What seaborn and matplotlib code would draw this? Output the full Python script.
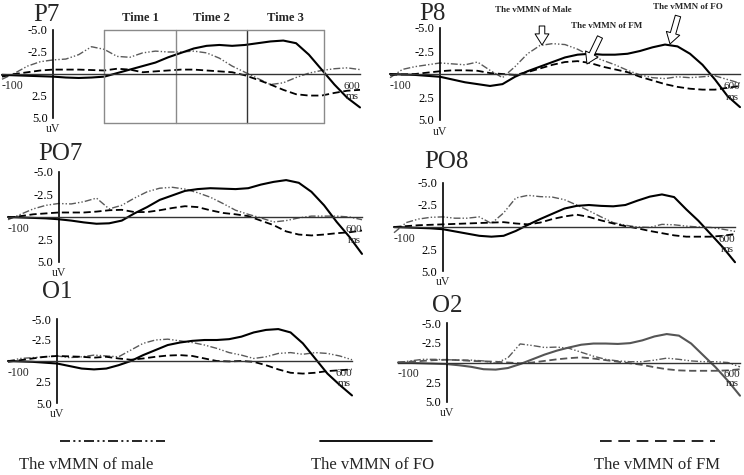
import numpy as np
import pandas as pd
import matplotlib
matplotlib.use("Agg")
import matplotlib.pyplot as plt
from matplotlib.lines import Line2D
from matplotlib.patches import FancyArrowPatch
import seaborn as sns

# ---------------- data ----------------
times = list(range(-100, 601, 25))  # ms

p7_male = [0.6, -0.1, -0.9, -1.4, -1.6, -1.7, -2.2, -3.1, -2.8, -2.0, -1.9, -2.4, -2.6, -2.5, -2.5,
           -2.6, -2.4, -1.8, -0.9, -0.2, 0.5, 1.2, 1.0, 0.4, -0.1, -0.4, -0.6, -0.7, -0.5]
p7_fo = [0.1, 0.15, 0.2, 0.25, 0.3, 0.4, 0.45, 0.4, 0.3, -0.1, -0.5, -0.9, -1.3, -1.9, -2.4,
         -2.9, -3.2, -3.3, -3.2, -3.3, -3.5, -3.7, -3.8, -3.5, -2.2, -0.5, 1.2, 2.7, 3.8]
p7_fm = [0.3, 0.0, -0.2, -0.4, -0.5, -0.5, -0.5, -0.45, -0.4, -0.6, -0.5, -0.2, -0.3, -0.4, -0.5,
         -0.5, -0.4, -0.3, -0.2, 0.15, 0.65, 1.2, 1.8, 2.3, 2.45, 2.45, 2.15, 1.9, 1.8]

p8_male = [0.4, -0.5, -0.8, -1.0, -1.2, -1.1, -1.0, -1.3, -0.4, 0.4, -0.8, -2.2, -3.1, -3.3, -3.2,
           -2.7, -2.0, -1.5, -1.0, -0.4, 0.1, 0.4, 0.5, 0.3, 0.4, 0.3, 0.2, 0.6, 1.0]
p8_fo = [0.0, 0.05, 0.1, 0.2, 0.3, 0.6, 0.9, 1.1, 1.3, 1.1, 0.3, -0.3, -0.8, -1.3, -1.8,
         -2.1, -2.2, -2.1, -2.1, -2.2, -2.5, -2.9, -3.2, -3.0, -2.2, -1.0, 0.6, 2.4, 3.6]
p8_fm = [0.1, 0.05, 0.0, -0.15, -0.3, -0.4, -0.4, -0.35, -0.1, 0.0, 0.1, -0.2, -0.6, -1.0, -1.3,
         -1.4, -1.2, -0.8, -0.5, -0.2, 0.3, 0.7, 1.1, 1.4, 1.6, 1.7, 1.7, 1.5, 1.3]

po7_male = [0.3, -0.3, -0.9, -1.3, -1.5, -1.45, -1.7, -2.1, -0.9, -1.3, -2.1, -2.8, -3.2, -3.3, -3.1,
            -2.7, -2.2, -1.5, -0.75, -0.3, 0.1, 0.55, 0.4, 0.1, -0.1, -0.1, -0.1, 0.0, 0.3]
po7_fo = [0.0, 0.05, 0.1, 0.15, 0.25, 0.4, 0.6, 0.75, 0.7, 0.4, -0.4, -1.1, -1.9, -2.4, -2.9,
          -3.1, -3.2, -3.15, -3.1, -3.2, -3.6, -3.9, -4.1, -3.8, -2.8, -1.3, 0.55, 2.2, 4.1]
po7_fm = [0.1, -0.1, -0.3, -0.4, -0.5, -0.5, -0.5, -0.6, -0.75, -0.8, -0.55, -0.55, -0.75, -1.0, -1.2,
          -1.1, -0.75, -0.45, -0.3, -0.1, 0.4, 0.9, 1.6, 1.95, 2.05, 1.95, 1.8, 1.7, 1.5]

po8_male = [0.65, -0.5, -0.9, -1.1, -1.15, -1.0, -1.0, -1.15, -0.4, -1.6, -3.3, -3.6, -3.45, -3.4, -3.1,
            -2.5, -1.85, -1.15, -0.5, -0.2, 0.0, 0.05, -0.3, -0.25, -0.1, 0.0, 0.05, 0.25, 0.5]
po8_fo = [0.0, 0.05, 0.1, 0.15, 0.25, 0.5, 0.75, 1.0, 1.1, 1.0, 0.45, -0.25, -0.9, -1.5, -2.1,
          -2.4, -2.5, -2.4, -2.35, -2.5, -3.0, -3.45, -3.7, -3.4, -2.0, -0.7, 0.8, 2.3, 4.0]
po8_fm = [0.0, -0.1, -0.2, -0.25, -0.3, -0.35, -0.4, -0.45, -0.5, -0.55, -0.4, -0.3, -0.5, -0.9, -1.2,
          -1.4, -1.15, -0.75, -0.4, -0.1, 0.15, 0.45, 0.7, 0.95, 1.1, 1.1, 1.1, 1.0, 0.8]

o1_male = [0.0, -0.3, -0.4, -0.5, -0.6, -0.4, -0.5, -0.7, -0.6, -0.5, -1.3, -2.1, -2.5, -2.6, -2.4,
           -2.2, -1.9, -1.5, -1.0, -0.7, -0.3, -0.5, -0.9, -1.0, -0.8, -1.0, -0.9, -0.6, -0.15]
o1_fo = [0.0, 0.05, 0.1, 0.2, 0.3, 0.6, 0.9, 1.0, 0.9, 0.5, 0.0, -0.7, -1.3, -1.9, -2.2,
         -2.4, -2.5, -2.5, -2.6, -2.9, -3.4, -3.7, -3.8, -3.4, -2.1, -0.3, 1.5, 2.85, 4.1]
o1_fm = [0.1, -0.1, -0.3, -0.5, -0.6, -0.55, -0.5, -0.4, -0.5, -0.3, -0.15, -0.3, -0.5, -0.65, -0.7,
         -0.6, -0.3, 0.0, 0.05, 0.0, 0.1, 0.5, 1.0, 1.4, 1.5, 1.4, 1.2, 1.1, 1.0]

o2_male = [0.0, -0.2, -0.4, -0.4, -0.35, -0.3, -0.3, -0.2, 0.1, -0.6, -2.35, -2.15, -1.9, -1.95, -1.8,
           -1.3, -0.8, -0.4, -0.2, -0.1, -0.1, -0.3, -0.55, -0.4, -0.2, -0.1, -0.1, 0.0, 0.55]
o2_fo = [0.0, 0.05, 0.1, 0.15, 0.2, 0.35, 0.55, 0.85, 0.9, 0.7, 0.2, -0.4, -1.0, -1.5, -1.9,
         -2.25, -2.4, -2.4, -2.35, -2.45, -2.8, -3.3, -3.6, -3.4, -2.4, -0.9, 0.6, 2.3, 4.2]
o2_fm = [0.0, -0.1, -0.2, -0.3, -0.35, -0.3, -0.2, -0.15, -0.1, 0.0, 0.1, 0.0, -0.2, -0.4, -0.55,
         -0.65, -0.5, -0.3, -0.1, 0.1, 0.3, 0.6, 0.85, 1.0, 1.05, 1.05, 1.05, 1.0, 0.85]

channels = ["P7", "P8", "PO7", "PO8", "O1", "O2"]
series = {
    "P7": (p7_male, p7_fo, p7_fm),
    "P8": (p8_male, p8_fo, p8_fm),
    "PO7": (po7_male, po7_fo, po7_fm),
    "PO8": (po8_male, po8_fo, po8_fm),
    "O1": (o1_male, o1_fo, o1_fm),
    "O2": (o2_male, o2_fo, o2_fm),
}
conditions = ["The vMMN of male", "The vMMN of FO", "The vMMN of FM"]
time_windows = [100, 240, 380, 530]
window_labels = ["Time 1", "Time 2", "Time 3"]
ytick_vals = [-5.0, -2.5, 2.5, 5.0]
ytick_labels = ["-5.0", "-2.5", "2.5", "5.0"]

# ---------------- style ----------------
sns.set_style("white")
plt.rcParams["font.family"] = ["Liberation Serif", "DejaVu Serif"]

W, H = 744, 475
fig = plt.figure(figsize=(W / 100, H / 100), dpi=100)

# pixel layout: x at -100, x at 600, y at -5, y at 5
layout = {
    "P7": (2, 360, 30, 118),
    "P8": (390, 740, 28, 120),
    "PO7": (8, 362, 172, 262),
    "PO8": (394, 735, 183, 271),
    "O1": (8, 352, 319, 403),
    "O2": (398, 740, 323, 402),
}
title_pos = {"P7": (33, 4), "P8": (419, 3), "PO7": (38, 143), "PO8": (424, 151),
             "O1": (42, 281), "O2": (432, 295)}

male_style = (0, (5, 1.5, 1, 1.5, 1, 1.5))
fm_style = (0, (4, 2))

def fx(px):
    return px / W

def fy(py):
    return 1 - py / H

for ch in channels:
    x0, x1, yt, yb = layout[ch]
    ax = fig.add_axes([fx(x0), fy(yb), (x1 - x0) / W, (yb - yt) / H])
    ax.set_facecolor("none")
    male, fo, fm = series[ch]
    dark = "#555555" if ch == "O2" else "black"
    sns.lineplot(x=times, y=male, ax=ax, color="#5a5a5a", linewidth=1.0,
                 linestyle=male_style, clip_on=False)
    sns.lineplot(x=times, y=fm, ax=ax, color=dark, linewidth=1.3,
                 linestyle=fm_style, clip_on=False)
    sns.lineplot(x=times, y=fo, ax=ax, color=dark, linewidth=1.5, clip_on=False)
    ax.set_xlim(-100, 600)
    ax.set_ylim(5, -5)
    ax.set_xlabel("")
    ax.set_ylabel("")
    for s in ["top", "right"]:
        ax.spines[s].set_visible(False)
    ax.spines["left"].set_position(("data", 0))
    ax.spines["bottom"].set_position(("data", 0))
    ax.spines["left"].set_bounds(-5, 5)
    ax.spines["bottom"].set_bounds(-100, 600)
    ax.spines["left"].set_color("black")
    ax.spines["left"].set_linewidth(1.2)
    ax.spines["bottom"].set_color("#333333")
    ax.spines["bottom"].set_linewidth(1.0)
    ax.set_yticks(ytick_vals)
    ax.set_yticklabels(ytick_labels)
    ax.set_xticks([-100, 100, 200, 300, 400, 500, 600])
    ax.set_xticklabels([])
    ax.tick_params(axis="y", direction="inout", length=6, width=0.9, pad=1,
                   labelsize=9, colors="black")
    ax.tick_params(axis="x", direction="inout", length=8, width=0.9, colors="#333333")
    ax.text(-100, 0.7, "-100", ha="left", va="top", fontsize=8.5)
    ax.text(600, 0.9, "600", ha="right", va="top", fontsize=8)
    ax.text(598, 2.1, "ms", ha="right", va="top", fontsize=8)
    ax.text(0, 5.6, "uV", ha="center", va="top", fontsize=8.5)
    tx, ty = title_pos[ch]
    fig.text(fx(tx), fy(ty), ch, ha="left", va="top", fontsize=18)

    if ch == "P7":
        for i, t in enumerate(time_windows):
            ax.plot([t, t], [-5, 5.6], color="#333333" if i == 2 else "#8a8a8a",
                    lw=1.0, clip_on=False)
        ax.plot([time_windows[0], time_windows[-1]], [-5, -5], color="#8a8a8a", lw=1.0, clip_on=False)
        ax.plot([time_windows[0], time_windows[-1]], [5.6, 5.6], color="#8a8a8a", lw=1.0, clip_on=False)
        for i, lab in enumerate(window_labels):
            c = (time_windows[i] + time_windows[i + 1]) / 2
            ax.text(c, -5.7, lab, ha="center", va="bottom", fontsize=9, fontweight="bold")

# ---------------- annotations on P8 ----------------
arrow_kw = dict(arrowstyle="simple,head_width=1.0,head_length=0.8,tail_width=0.4",
                mutation_scale=10, fc="white", ec="black", lw=0.7, shrinkA=0, shrinkB=0)
annos = [("The vMMN of Male", (533, 10), (542, 26), (542, 45)),
         ("The vMMN of FM", (607, 26), (600, 37), (587, 64)),
         ("The vMMN of FO", (688, 7), (678, 16), (670, 44))]
for txt, (tx, ty), (ax0, ay0), (ax1, ay1) in annos:
    fig.text(fx(tx), fy(ty), txt, ha="center", va="center", fontsize=6.5, fontweight="bold")
    fig.add_artist(FancyArrowPatch((fx(ax0), fy(ay0)), (fx(ax1), fy(ay1)),
                                   transform=fig.transFigure, **arrow_kw))

# ---------------- bottom legend ----------------
leg_x = [(60, 165), (320, 432), (600, 715)]
leg_styles = [dict(color="black", lw=1.2, linestyle=(0, (6, 2, 1.2, 2, 1.2, 2))),
              dict(color="black", lw=1.3, linestyle="-"),
              dict(color="black", lw=1.2, linestyle=(0, (7, 4)))]
leg_text_x = [86, 373, 657]
for (a, b), st, lab, tx in zip(leg_x, leg_styles, conditions, leg_text_x):
    fig.add_artist(Line2D([fx(a), fx(b)], [fy(441), fy(441)], transform=fig.transFigure, **st))
    fig.text(fx(tx), fy(465), lab, ha="center", va="center", fontsize=12)

fig.savefig("out.png", dpi=100)
